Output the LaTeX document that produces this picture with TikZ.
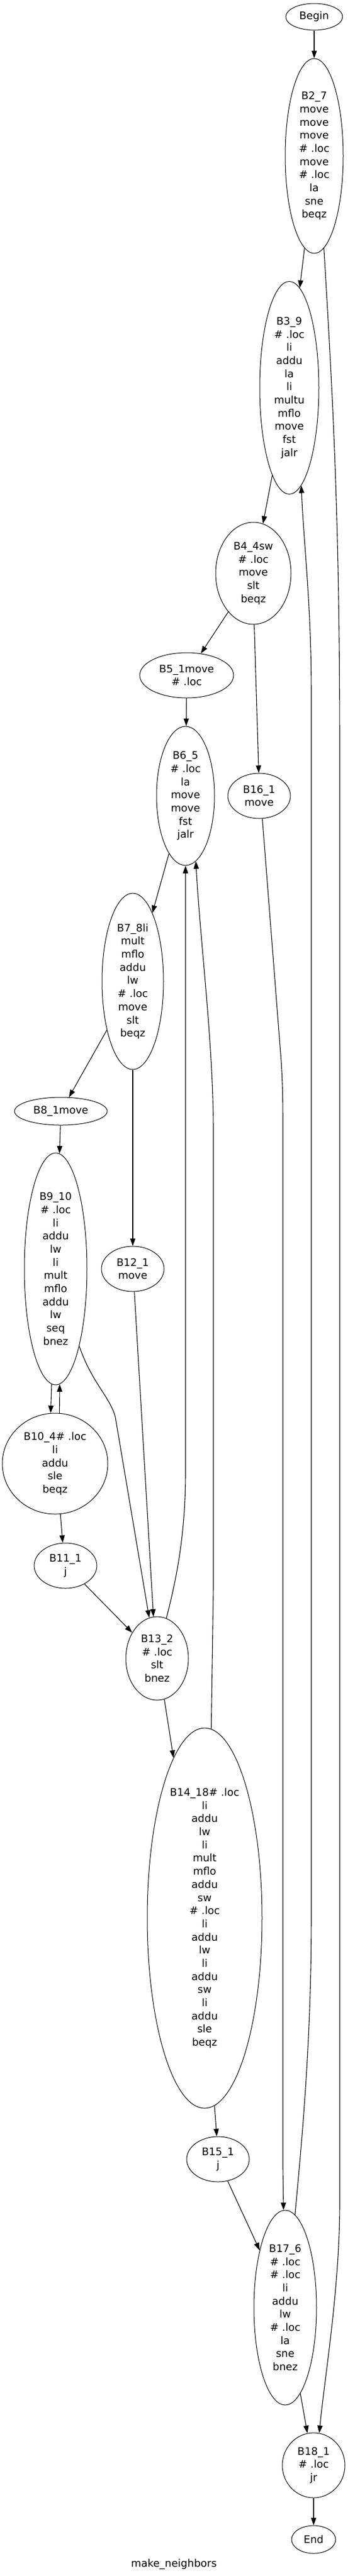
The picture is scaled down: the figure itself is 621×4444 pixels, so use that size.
\documentclass[tikz,border=0pt]{standalone}
\usepackage{fontspec}
\setmainfont{DejaVu Sans}
\usetikzlibrary{shapes.geometric,arrows.meta}
\begin{document}
\begin{tikzpicture}[x=1pt,y=-1pt,
  bb/.style={draw, ellipse, inner sep=0pt, align=center, line width=1pt, font=\fontsize{18}{22.67}\selectfont},
  edge/.style={line width=1.1pt, -{Triangle[length=13pt,width=9pt]}}]
\fill[white] (0,0) rectangle (621,4444);
\useasboundingbox (0,0) rectangle (621,4444);

\node[bb, minimum width=98pt, minimum height=46pt] (begin) at (542,29) {Begin};
\node[bb, minimum width=100pt, minimum height=336pt] (b2) at (542,269) {B2\_7\\move\\move\\move\\\# .loc\\move\\\# .loc\\la\\sne\\beqz};
\node[bb, minimum width=102pt, minimum height=367pt] (b3) at (499,669) {B3\_9\\\# .loc\\li\\addu\\la\\li\\multu\\mflo\\move\\fst\\jalr};
\node[bb, minimum width=130pt, minimum height=176pt] (b4) at (437,989) {B4\_4sw\\\# .loc\\move\\slt\\beqz};
\node[bb, minimum width=162pt, minimum height=78pt] (b5) at (322,1165) {B5\_1move\\\# .loc};
\node[bb, minimum width=108pt, minimum height=78pt] (b16) at (447,1373) {B16\_1\\move};
\node[bb, minimum width=100pt, minimum height=240pt] (b6) at (320,1373) {B6\_5\\\# .loc\\la\\move\\move\\fst\\jalr};
\node[bb, minimum width=106pt, minimum height=304pt] (b7) at (229,1693) {B7\_8li\\mult\\mflo\\addu\\lw\\\# .loc\\move\\slt\\beqz};
\node[bb, minimum width=160pt, minimum height=48pt] (b8) at (105,1917) {B8\_1move};
\node[bb, minimum width=108pt, minimum height=400pt] (b9) at (96,2189) {B9\_10\\\# .loc\\li\\addu\\lw\\li\\mult\\mflo\\addu\\lw\\seq\\bnez};
\node[bb, minimum width=108pt, minimum height=78pt] (b12) at (229,2189) {B12\_1\\move};
\node[bb, minimum width=182pt, minimum height=174pt] (b10) at (95,2525) {B10\_4\# .loc\\li\\addu\\sle\\beqz};
\node[bb, minimum width=108pt, minimum height=78pt] (b11) at (113,2701) {B11\_1\\j};
\node[bb, minimum width=108pt, minimum height=144pt] (b13) at (271,2861) {B13\_2\\\# .loc\\slt\\bnez};
\node[bb, minimum width=198pt, minimum height=656pt] (b14) at (353,3309) {B14\_18\# .loc\\li\\addu\\lw\\li\\mult\\mflo\\addu\\sw\\\# .loc\\li\\addu\\lw\\li\\addu\\sw\\li\\addu\\sle\\beqz};
\node[bb, minimum width=108pt, minimum height=78pt] (b15) at (376,3725) {B15\_1\\j};
\node[bb, minimum width=108pt, minimum height=336pt] (b17) at (492,3981) {B17\_6\\\# .loc\\\# .loc\\li\\addu\\lw\\\# .loc\\la\\sne\\bnez};
\node[bb, minimum width=108pt, minimum height=112pt] (b18) at (541,4253) {B18\_1\\\# .loc\\jr};
\node[bb, minimum width=76pt, minimum height=48pt] (endn) at (541,4381) {End};
\node[font=\fontsize{18}{22}\selectfont, anchor=base, inner sep=0pt] (title) at (300,4428) {make\_neighbors};

\draw[edge] (begin) -- (b2);
\draw[edge] (b2.264) -- (b3.84);
\draw[edge] (b2.276) .. controls (575,700) and (586,900) .. (586,1300) -- (586,3800) .. controls (586,3950) and (560,4100) .. (b18.80);
\draw[edge] (b3.259) -- (b4.79);
\draw[edge] (b17.84) .. controls (525,3650) and (537,3500) .. (537,3300) -- (537,1200) .. controls (537,1040) and (524,940) .. (b3.277);
\draw[edge] (b4.237) -- (b5.57);
\draw[edge] (b4.271) -- (b16.91);
\draw[edge] (b5) -- (b6);
\draw[edge] (b6.254) -- (b7.74);
\draw[edge] (b16.278) -- (485,1830) .. controls (488,1880) and (488,1900) .. (488,1960) -- (488,3740) -- (b17.91);
\draw[edge] (b13.77) .. controls (300,2740) and (320,2660) .. (320,2540) -- (b6.south);
\draw[edge] (b14.88) -- (368,2740) -- (368,1950) .. controls (368,1800) and (345,1620) .. (b6.279);
\draw[edge] (b7.242) -- (b8.60);
\draw[edge] (b7) -- (b12);
\draw[edge] (b8) -- (b9);
\draw[edge] (b9.268) -- (b10.95);
\draw[edge] (b10.85) -- (b9.272);
\draw[edge] (b9.287) .. controls (158,2385) and (190,2410) .. (199,2445) -- (b13.101);
\draw[edge] (b12.274) -- (b13.95);
\draw[edge] (b11.316) -- (b13.134);
\draw[edge] (b10.276) -- (b11.97);
\draw[edge] (b13.280) -- (b14.101);
\draw[edge] (b14.273) -- (b15.93);
\draw[edge] (b15.294) -- (b17.114);
\draw[edge] (b17.280) -- (b18.101);
\draw[edge] (b18) -- (endn);
\end{tikzpicture}
\end{document}
